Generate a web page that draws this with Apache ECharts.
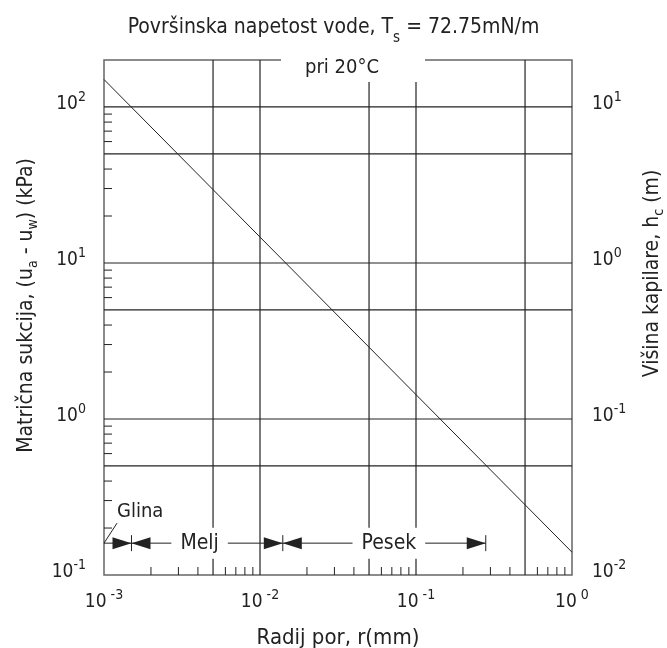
<!DOCTYPE html>
<html>
<head>
<meta charset="utf-8">
<script src="https://cdn.jsdelivr.net/npm/echarts@6/dist/echarts.min.js"></script>
<style>
  html, body { margin: 0; padding: 0; background: #fff; }
  #chart { width: 667px; height: 648px; }
</style>
</head>
<body>
<div id="chart"></div>
<script>
  // pore radius (mm) vs matric suction (kPa), Ts = 72.75 mN/m
  var radius = [0.001, 1];
  var suction = [150, 0.14];

  // heavy grid lines (every 5 and 10)
  var gridX = [0.005, 0.01, 0.05, 0.1, 0.5];
  var gridY = [0.5, 1, 5, 10, 50, 100];

  // small ticks
  var minorX = [0.002, 0.003, 0.004, 0.006, 0.007, 0.008, 0.009,
                0.02, 0.03, 0.04, 0.06, 0.07, 0.08, 0.09,
                0.2, 0.3, 0.4, 0.6, 0.7, 0.8, 0.9];
  var minorY = [0.2, 0.3, 0.4, 0.6, 0.7, 0.8, 0.9,
                2, 3, 4, 6, 7, 8, 9,
                20, 30, 40, 60, 70, 80, 90];

  // soil classes along the radius axis
  var soilNames = ['Glina', 'Melj', 'Pesek'];
  var soilFrom = [0.001, 0.0015, 0.014];
  var soilTo = [0.0015, 0.014, 0.28];
  var soilLabelX = [0.001, 0.0041, 0.067];
  var soilLevel = 0.16;

  var X_MIN = 0.001, X_MAX = 1, Y_MIN = 0.1, Y_MAX = 200;
  var FONT = '"DejaVu Sans Condensed", "DejaVu Sans", sans-serif';
  var INK = '#222';

  function isPow10(v) {
    var l = Math.log(v) / Math.LN10;
    return Math.abs(l - Math.round(l)) < 1e-6;
  }
  function powLabel(v, gap) {
    if (!isPow10(v)) return '';
    var e = Math.round(Math.log(v) / Math.LN10);
    return '{b|10}{s|' + (gap ? ' ' : '') + e + '}';
  }
  var powRich = {
    b: { fontFamily: FONT, fontSize: 19, color: INK, lineHeight: 20, padding: [0, 0, 6, 0], verticalAlign: 'middle' },
    s: { fontFamily: FONT, fontSize: 14, color: INK, lineHeight: 14, padding: [0, 0, 20, 0], verticalAlign: 'middle' }
  };
  var nameRich = {
    n: { fontFamily: FONT, fontSize: 21, color: INK, lineHeight: 22, verticalAlign: 'middle' },
    sub: { fontFamily: FONT, fontSize: 14, color: INK, lineHeight: 14, padding: [12, 0, 0, 0], verticalAlign: 'middle' }
  };

  function lineEl(x1, y1, x2, y2, w, c) {
    return { type: 'line', shape: { x1: x1, y1: y1, x2: x2, y2: y2 },
             style: { stroke: c || INK, lineWidth: w || 1 } };
  }
  function arrowEl(tipX, y, dir) {
    // dir 1 = points right, -1 = points left
    var L = 19, H = 6;
    return { type: 'polygon', shape: { points: [[tipX, y], [tipX - dir * L, y - H], [tipX - dir * L, y + H]] },
             style: { fill: INK } };
  }

  var chart = echarts.init(document.getElementById('chart'));
  var option = {
    backgroundColor: '#fff',
    animation: false,
    title: {
      left: 'center',
      top: 12,
      text: '{a|Površinska napetost vode, T}{sub|s}{a| = 72.75mN/m}',
      textStyle: {
        fontWeight: 'normal',
        rich: {
          a: { fontFamily: FONT, fontSize: 21, fontWeight: 'normal', color: INK, lineHeight: 22, verticalAlign: 'middle' },
          sub: { fontFamily: FONT, fontSize: 15, fontWeight: 'normal', color: INK, lineHeight: 15, padding: [20, 0, 0, 0], verticalAlign: 'middle' }
        }
      }
    },
    graphic: [{
      type: 'group', z: 100,
      children: [
        { type: 'rect', shape: { x: 281, y: 50, width: 144, height: 32 }, style: { fill: '#fff' }, z: 100 },
        { type: 'text', x: 342, y: 68, z: 101,
          style: { text: 'pri 20°C', font: '20px ' + FONT, fill: INK, align: 'center', verticalAlign: 'middle' } }
      ]
    }],
    grid: {
      left: 104, right: 95, top: 60, bottom: 73,
      outerBoundsMode: 'none', containLabel: false,
      show: true, borderColor: '#666', borderWidth: 1.5, backgroundColor: 'transparent'
    },
    xAxis: {
      type: 'log', logBase: 10, min: X_MIN, max: X_MAX,
      name: 'Radij por, r(mm)', nameLocation: 'middle', nameGap: 47,
      nameTextStyle: { fontFamily: FONT, fontSize: 22, color: INK },
      axisLine: { show: false }, axisTick: { show: false }, splitLine: { show: false },
      axisLabel: { margin: 20, formatter: function (v) { return powLabel(v, true); }, rich: powRich }
    },
    yAxis: [{
      type: 'log', logBase: 10, min: Y_MIN, max: Y_MAX, position: 'left',
      name: '{n|Matrična sukcija, (u}{sub|a}{n| - u}{sub|w}{n|) (kPa)}',
      nameLocation: 'middle', nameGap: 66, nameRotate: 90,
      nameTextStyle: { rich: nameRich, padding: [0, 0, 0, 24] },
      axisLine: { show: false }, axisTick: { show: false }, splitLine: { show: false },
      axisLabel: { margin: 18, formatter: function (v) { return powLabel(v, false); }, rich: powRich }
    }, {
      type: 'log', logBase: 10, min: Y_MIN / 10, max: Y_MAX / 10, position: 'right',
      name: '{n|Višina kapilare, h}{sub|c}{n| (m)}',
      nameLocation: 'middle', nameGap: 70, nameRotate: 90,
      nameTextStyle: { rich: nameRich, padding: [0, 0, 0, 88] },
      axisLine: { show: false }, axisTick: { show: false }, splitLine: { show: false },
      axisLabel: { margin: 20, formatter: function (v) { return powLabel(v, false); }, rich: powRich }
    }],
    series: [{
      name: 'grid-x', type: 'custom', z: 1, silent: true,
      data: gridX.map(function (v) { return [v, Y_MIN]; }),
      renderItem: function (params, api) {
        var p1 = api.coord([api.value(0), Y_MIN]);
        var p2 = api.coord([api.value(0), Y_MAX]);
        return lineEl(p1[0], p1[1], p2[0], p2[1], 1.2);
      }
    }, {
      name: 'grid-y', type: 'custom', z: 1, silent: true,
      data: gridY.map(function (v) { return [X_MIN, v]; }),
      renderItem: function (params, api) {
        var p1 = api.coord([X_MIN, api.value(1)]);
        var p2 = api.coord([X_MAX, api.value(1)]);
        return lineEl(p1[0], p1[1], p2[0], p2[1], 1.2);
      }
    }, {
      name: 'ticks-x', type: 'custom', z: 1, silent: true,
      data: minorX.map(function (v) { return [v, Y_MIN]; }),
      renderItem: function (params, api) {
        var p = api.coord([api.value(0), Y_MIN]);
        return lineEl(p[0], p[1], p[0], p[1] - 8, 1);
      }
    }, {
      name: 'ticks-y', type: 'custom', z: 1, silent: true,
      data: minorY.map(function (v) { return [X_MIN, v]; }),
      renderItem: function (params, api) {
        var p = api.coord([X_MIN, api.value(1)]);
        return lineEl(p[0], p[1], p[0] + 8, p[1], 1);
      }
    }, {
      name: 'suction', type: 'line', z: 3, symbol: 'none',
      data: radius.map(function (r, i) { return [r, suction[i]]; }),
      lineStyle: { color: INK, width: 1 }
    }, {
      name: 'soil', type: 'custom', z: 5, silent: true,
      data: soilNames.map(function (n, i) { return [soilFrom[i], soilLevel, soilTo[i], soilLabelX[i]]; }),
      renderItem: function (params, api) {
        var i = params.dataIndex;
        var a = api.coord([api.value(0), soilLevel]);
        var b = api.coord([api.value(2), soilLevel]);
        var t = api.coord([api.value(3), soilLevel]);
        var y = a[1];
        var kids = [lineEl(a[0], y, b[0], y, 1)];
        if (i > 0) kids.push(arrowEl(a[0], y, -1));
        kids.push(arrowEl(b[0], y, 1));
        kids.push(lineEl(b[0], y - 8, b[0], y + 8, 1));
        if (i === 0) {
          kids.push(lineEl(a[0], y, a[0] + 13, y - 20, 1));
          kids.push({ type: 'text', x: a[0] + 13, y: y - 31,
            style: { text: soilNames[i], font: '20px ' + FONT, fill: INK, align: 'left', verticalAlign: 'middle' } });
        } else {
          kids.push({ type: 'text', x: t[0], y: y,
            style: { text: soilNames[i], font: '21px ' + FONT, fill: INK, align: 'center', verticalAlign: 'middle',
                     backgroundColor: '#fff', padding: [5, 9, 5, 9] } });
        }
        return { type: 'group', children: kids };
      }
    }]
  };
  chart.setOption(option);
</script>
</body>
</html>
